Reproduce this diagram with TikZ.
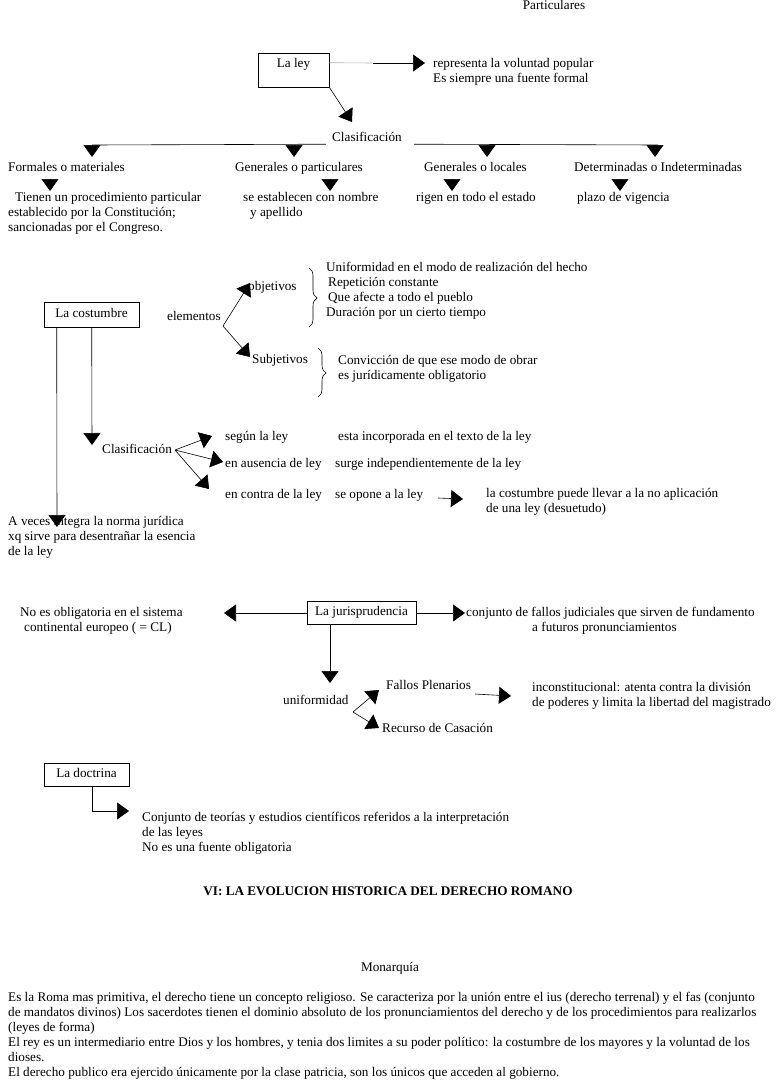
\documentclass[tikz,border=0pt]{standalone}
\usepackage{fontspec}
\setmainfont{Liberation Serif}
\usetikzlibrary{arrows.meta,decorations.pathreplacing}
\begin{document}
\begin{tikzpicture}[x=1pt,y=-1pt,
  every node/.style={font=\fontsize{13.2}{15}\selectfont, inner sep=0pt},
  t/.style={anchor=west, text height=9pt, text depth=3pt},
  tc/.style={anchor=center, text height=9pt, text depth=3pt},
  ml/.style={anchor=north west, align=left},
  box/.style={draw, line width=0.6pt, text height=9pt, text depth=3pt},
  ln/.style={line width=0.6pt},
  arr/.style={line width=0.6pt, -{Triangle[width=17pt,length=12pt]}},
  brc/.style={line width=0.6pt, decorate, decoration={brace, amplitude=8pt, aspect=0.51}}]
\useasboundingbox (0,0) rectangle (780,1087);

% ---------- La ley ----------
\node[anchor=north, text height=9pt, text depth=3pt] (part) at (554,0.5) {Particulares};
\node[draw, line width=0.6pt, minimum width=71pt, text height=9pt, text depth=14pt, inner ysep=5.5pt] (laley) at (293.5,70) {La ley};
\node[ml] (rep) at (433,58) {representa la voluntad popular\\Es siempre una fuente formal};
\coordinate (lg) at (373,63);
\coordinate (repTip) at (425,63);
\draw[ln, black!30] ([yshift=-10pt]laley.north east) -- (lg);
\draw[arr] (lg) -- (repTip);
\coordinate (clasTip) at (352,122);
\draw[arr] (laley.south east) -- (clasTip);

\node[tc] (clas) at (367,138) {Clasificación};
\coordinate (hl) at (92,145);
\coordinate (hr) at (658,145);
\draw[ln] (hl) -- ([xshift=-6pt]clas.south west);
\draw[ln] ([xshift=12pt]clas.south east) -- (hr);
\foreach \x/\n in {92/a,294/b,487/c,655/d}{
  \coordinate (top\n) at (\x,145);
  \coordinate (bot\n) at (\x,157);
  \draw[arr] (top\n) -- (bot\n);
}
\node[t] (form) at (8,168) {Formales o materiales};
\node[t] (genp) at (235,168) {Generales o particulares};
\node[t] (genl) at (424,168) {Generales o locales};
\node[t] (det) at (574,168) {Determinadas o Indeterminadas};
\foreach \x/\n in {50/a,330/b,452/c,620/d}{
  \coordinate (s\n) at (\x,179);
  \coordinate (e\n) at (\x,191);
  \draw[arr] (s\n) -- (e\n);
}
\node[ml] (tien) at (8,192) {\hspace*{7pt}Tienen un procedimiento particular\\establecido por la Constitución;\\sancionadas por el Congreso.};
\node[ml] (seest) at (243,192) {se establecen con nombre\\\hspace*{7pt}y apellido};
\node[t] (rigen) at (416,198) {rigen en todo el estado};
\node[t] (plazo) at (577,198) {plazo de vigencia};

% ---------- La costumbre ----------
\node[box, minimum width=95pt, minimum height=25pt] (cost) at (91.5,314.5) {La costumbre};
\node[t] (elem) at (167,317) {elementos};
\node[t] (obj) at (248,287) {objetivos};
\node[t] (subj) at (252,360) {Subjetivos};
\coordinate (ev) at (223,326);
\coordinate (objTip) at (250,283);
\coordinate (subTip) at (250,357);
\draw[arr] (ev) -- (objTip);
\draw[arr] (ev) -- (subTip);
\coordinate (b1t) at (309,268);
\coordinate (b1b) at (309,327);
\draw[brc] (b1t) -- (b1b);
\node[ml] (unif) at (326,262) {Uniformidad en el modo de realización del hecho\\\hspace*{2pt}Repetición constante\\\hspace*{2pt}Que afecte a todo el pueblo\\Duración por un cierto tiempo};
\coordinate (b2t) at (318,348);
\coordinate (b2b) at (318,397);
\draw[brc] (b2t) -- (b2b);
\node[ml] (conv) at (338,355) {Convicción de que ese modo de obrar\\es jurídicamente obligatorio};

\node[t] (clas2) at (102,450) {Clasificación};
\coordinate (cv) at (175,450);
\coordinate (c1) at (212,436);
\coordinate (c2) at (223,462);
\coordinate (c3) at (209,489);
\draw[arr] (cv) -- (c1);
\draw[arr] (cv) -- (c2);
\draw[arr] (cv) -- (c3);
\node[t] (seg) at (225,437) {según la ley};
\node[t] (inc) at (338,437) {esta incorporada en el texto de la ley};
\node[t] (aus) at (225,464) {en ausencia de ley};
\node[t] (surge) at (335,464) {surge independientemente de la ley};
\node[t] (contra) at (225,495) {en contra de la ley};
\node[t] (opone) at (335,495) {se opone a la ley};
\coordinate (op1) at (438,498);
\coordinate (op2) at (463,499);
\draw[arr] (op1) -- (op2);
\node[ml] (desu) at (486,488) {la costumbre puede llevar a la no aplicación\\de una ley (desuetudo)};
\node[ml] (aveces) at (8,516) {A veces integra la norma jurídica\\xq sirve para desentrañar la esencia\\de la ley};
\coordinate (cl2tip) at (92,445);
\coordinate (avtip) at (57,527);
\draw[arr] ([xshift=48pt]cost.south west) -- (cl2tip);
\draw[arr] ([xshift=13pt]cost.south west) -- (avtip);

% ---------- La jurisprudencia ----------
\node[box, minimum width=109pt, minimum height=23pt] (juris) at (361.5,612.5) {La jurisprudencia};
\node[ml] (noes) at (20,607) {No es obligatoria en el sistema\\\hspace*{4pt}continental europeo ( = CL)};
\node[ml] (conj) at (466,607) {conjunto de fallos judiciales que sirven de fundamento\\\hspace*{66pt}a futuros pronunciamientos};
\coordinate (jl) at (224,613);
\coordinate (jr) at (465,613);
\coordinate (jd) at (330,683);
\draw[arr] (juris.west |- jl) -- (jl);
\draw[arr] (juris.east |- jr) -- (jr);
\draw[arr] (juris.south -| jd) -- (jd);
\node[t] (uni) at (283,701) {uniformidad};
\coordinate (uv) at (353,712);
\coordinate (u1) at (379,690);
\coordinate (u2) at (379,728);
\draw[arr] (uv) -- (u1);
\draw[arr] (uv) -- (u2);
\node[t] (fallos) at (386,686) {Fallos Plenarios};
\node[t] (recurso) at (382,729) {Recurso de Casación};
\coordinate (f1) at (475,694);
\coordinate (f2) at (511,696);
\draw[arr] (f1) -- (f2);
\node[ml] (incons) at (532,682) {inconstitucional: atenta contra la división\\de poderes y limita la libertad del magistrado};

% ---------- La doctrina ----------
\node[box, minimum width=85pt, minimum height=23pt] (doct) at (86.5,774.5) {La doctrina};
\coordinate (dc) at (92,811);
\coordinate (dt) at (129,811);
\draw[arr] (doct.south -| dc) -- (dc) -- (dt);
\node[ml] (teor) at (142,812) {Conjunto de teorías y estudios científicos referidos a la interpretación\\de las leyes\\No es una fuente obligatoria};

% ---------- Texto final ----------
\node[tc, font=\fontsize{13.2}{15}\selectfont\bfseries] (title) at (388,892) {VI: LA EVOLUCION HISTORICA DEL DERECHO ROMANO};
\node[tc] (mon) at (390,968) {Monarquía};
\node[ml] (par) at (8,992) {Es la Roma mas primitiva, el derecho tiene un concepto religioso. Se caracteriza por la unión entre el ius (derecho terrenal) y el fas (conjunto\\de mandatos divinos) Los sacerdotes tienen el dominio absoluto de los pronunciamientos del derecho y de los procedimientos para realizarlos\\(leyes de forma)\\El rey es un intermediario entre Dios y los hombres, y tenia dos limites a su poder político: la costumbre de los mayores y la voluntad de los\\dioses.\\El derecho publico era ejercido únicamente por la clase patricia, son los únicos que acceden al gobierno.};
\end{tikzpicture}
\end{document}
